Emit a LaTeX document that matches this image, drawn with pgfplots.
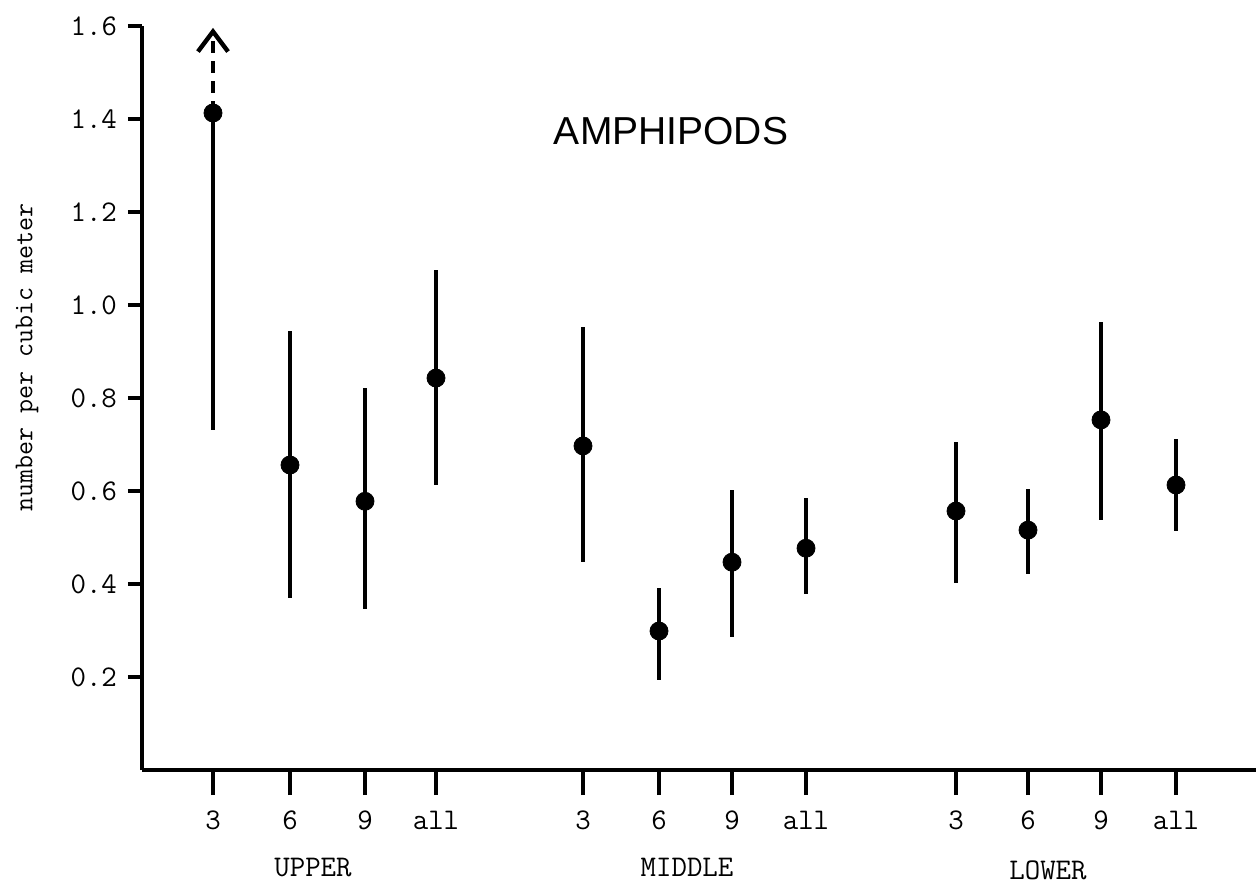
\documentclass[border=0pt]{standalone}
\usepackage{fontspec}
\setmainfont{Liberation Serif}
\newfontfamily\sans{Liberation Sans}
\usepackage{pgfplots}
\pgfplotsset{compat=1.18}
\usetikzlibrary{arrows.meta}

\begin{document}
\begin{tikzpicture}
\begin{axis}[
  scale only axis,
  width=557pt, height=372pt,
  xmin=142, xmax=1256, ymin=0, ymax=1.6,
  axis lines*=left,
  axis line style={line width=2pt, black},
  tick align=outside,
  major tick length=7pt,
  tick style={line width=2pt, black},
  xtick style={/pgfplots/major tick length=12.5pt},
  xtick={213,290,365,436,583,659,732,806,956,1028,1101,1176},
  xticklabels={3,6,9,all,3,6,9,all,3,6,9,all},
  ytick={0.2,0.4,0.6,0.8,1.0,1.2,1.4,1.6},
  yticklabels={0.2,0.4,0.6,0.8,1.0,1.2,1.4,1.6},
  ticklabel style={font=\ttfamily\fontsize{15}{17}\selectfont},
  xticklabel style={yshift=-10pt},
  yticklabel style={xshift=-2pt},
  clip=false,
]
\addplot[only marks, mark=*, mark size=4.5pt, black,
  error bars/.cd, y dir=both, y explicit, error mark=none,
  error bar style={line width=2.3pt, black}]
  coordinates {
   (213,1.413) += (0,0) -= (0,0.682)
   (290,0.656) += (0,0.288) -= (0,0.286)
   (365,0.578) += (0,0.243) -= (0,0.232)
   (436,0.843) += (0,0.232) -= (0,0.230)
   (583,0.697) += (0,0.256) -= (0,0.250)
   (659,0.299) += (0,0.092) -= (0,0.105)
   (732,0.447) += (0,0.155) -= (0,0.161)
   (806,0.477) += (0,0.108) -= (0,0.099)
   (956,0.557) += (0,0.148) -= (0,0.155)
   (1028,0.516) += (0,0.088) -= (0,0.095)
   (1101,0.753) += (0,0.210) -= (0,0.215)
   (1176,0.613) += (0,0.099) -= (0,0.099)
  };
\addplot[black, line width=2.3pt, dash pattern=on 6pt off 4pt,
  -{Straight Barb[length=10pt, width=15pt, line width=2.2pt]}]
  coordinates {(213,1.413) (213,1.596)};
\node[font=\sans\fontsize{19.5}{22}\selectfont] at (axis cs:671,1.374) {AMPHIPODS};
\node[rotate=90, font=\ttfamily\fontsize{13.6}{15}\selectfont] at (axis cs:27,0.888) {number per cubic meter};
\node[font=\ttfamily\fontsize{15}{17}\selectfont] at (axis cs:313,-0.2086) {UPPER};
\node[font=\ttfamily\fontsize{15}{17}\selectfont] at (axis cs:687,-0.2086) {MIDDLE};
\node[font=\ttfamily\fontsize{15}{17}\selectfont] at (axis cs:1048,-0.215) {LOWER};
\coordinate (BL) at (axis cs:0,-0.2452);
\coordinate (TR) at (axis cs:1256,1.656);
\end{axis}
\pgfresetboundingbox
\path[use as bounding box] (BL) rectangle (TR);
\end{tikzpicture}
\end{document}
